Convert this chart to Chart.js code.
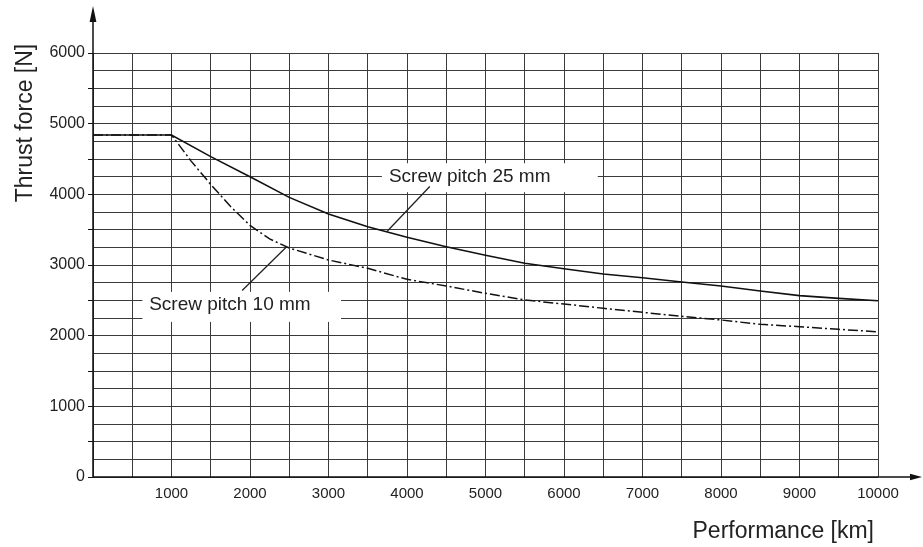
<!DOCTYPE html>
<html>
<head>
<meta charset="utf-8">
<script src="https://cdn.jsdelivr.net/npm/chart.js@4"></script>
<style>
  html, body { margin: 0; padding: 0; background: #fff; }
  #wrap { width: 923px; height: 547px; position: relative; }
</style>
</head>
<body>
<div id="wrap"><canvas id="thrustChart"></canvas></div>
<script>
// Values
const pitch25Km = [0, 1000, 1500, 2000, 2500, 3000, 3500, 4000, 4500, 5000, 5500, 6000, 6500, 7000, 7500, 8000, 8500, 9000, 9500, 10000];
const pitch25Force = [4840, 4840, 4533, 4250, 3957, 3722, 3542, 3392, 3259, 3137, 3024, 2948, 2872, 2820, 2760, 2703, 2632, 2566, 2528, 2495];
const pitch10Km = [0, 1000, 1250, 1500, 1750, 2000, 2250, 2500, 3000, 3500, 4000, 4500, 5000, 5500, 6000, 6500, 7000, 7500, 8000, 8500, 9000, 9500, 10000];
const pitch10Force = [4840, 4840, 4470, 4140, 3830, 3560, 3370, 3240, 3071, 2953, 2797, 2703, 2599, 2505, 2448, 2387, 2330, 2275, 2222, 2160, 2127, 2090, 2055];
const xLabelValues = [1000, 2000, 3000, 4000, 5000, 6000, 7000, 8000, 9000, 10000];
const yLabelValues = [0, 1000, 2000, 3000, 4000, 5000, 6000];

const INK = '#222';
const GRID = '#3a3a3a';
const FONT = '"Liberation Sans", Arial, Helvetica, sans-serif';

// callout boxes and leader lines, in data units
const callouts = [
  { text: 'Screw pitch 25 mm', box: [3680, 4440, 6430, 4030], textAt: [3770, 4255], leader: [[4290, 4110], [3745, 3475]] },
  { text: 'Screw pitch 10 mm', box: [630, 2620, 3160, 2195], textAt: [715, 2434], leader: [[1900, 2640], [2460, 3250]] },
];

const toPoints = (xs, ys) => xs.map((x, i) => ({ x, y: ys[i] }));

const diagramDecor = {
  id: 'diagramDecor',
  afterDatasetsDraw(chart) {
    const { ctx, scales: { x, y }, chartArea } = chart;
    ctx.save();

    // callouts
    callouts.forEach((c) => {
      const x0 = x.getPixelForValue(c.box[0]);
      const y0 = y.getPixelForValue(c.box[1]);
      const x1 = x.getPixelForValue(c.box[2]);
      const y1 = y.getPixelForValue(c.box[3]);
      ctx.fillStyle = '#fff';
      ctx.fillRect(x0, y0, x1 - x0, y1 - y0);

      ctx.strokeStyle = INK;
      ctx.lineWidth = 1.3;
      ctx.beginPath();
      ctx.moveTo(x.getPixelForValue(c.leader[0][0]), y.getPixelForValue(c.leader[0][1]));
      ctx.lineTo(x.getPixelForValue(c.leader[1][0]), y.getPixelForValue(c.leader[1][1]));
      ctx.stroke();

      ctx.fillStyle = INK;
      ctx.font = '19px ' + FONT;
      ctx.textAlign = 'left';
      ctx.textBaseline = 'middle';
      ctx.fillText(c.text, x.getPixelForValue(c.textAt[0]), y.getPixelForValue(c.textAt[1]));
    });

    // axes with arrows
    const left = chartArea.left;
    const bottom = chartArea.bottom;
    ctx.strokeStyle = '#111';
    ctx.fillStyle = '#111';
    ctx.lineWidth = 1.5;
    ctx.beginPath();
    ctx.moveTo(left, bottom);
    ctx.lineTo(left, 18);
    ctx.moveTo(left, bottom);
    ctx.lineTo(913, bottom);
    ctx.stroke();

    ctx.beginPath();
    ctx.moveTo(left, 6);
    ctx.lineTo(left - 3.4, 22);
    ctx.lineTo(left + 3.4, 22);
    ctx.closePath();
    ctx.fill();

    ctx.beginPath();
    ctx.moveTo(922, bottom);
    ctx.lineTo(910, bottom - 3.2);
    ctx.lineTo(910, bottom + 3.2);
    ctx.closePath();
    ctx.fill();

    // axis titles
    ctx.fillStyle = INK;
    ctx.font = '23px ' + FONT;
    ctx.textAlign = 'right';
    ctx.textBaseline = 'alphabetic';
    ctx.fillText('Performance [km]', 874, 538);

    ctx.translate(32, 123);
    ctx.rotate(-Math.PI / 2);
    ctx.textAlign = 'center';
    ctx.fillText('Thrust force [N]', 0, 0);
    ctx.restore();
  },
};

new Chart(document.getElementById('thrustChart'), {
  type: 'line',
  data: {
    datasets: [
      {
        label: 'Screw pitch 25 mm',
        data: toPoints(pitch25Km, pitch25Force),
        borderColor: '#111',
        borderWidth: 1.6,
        pointRadius: 0,
        tension: 0,
        fill: false,
      },
      {
        label: 'Screw pitch 10 mm',
        data: toPoints(pitch10Km, pitch10Force),
        borderColor: '#111',
        borderWidth: 1.5,
        borderDash: [10, 3, 2, 3],
        pointRadius: 0,
        tension: 0,
        fill: false,
      },
    ],
  },
  options: {
    responsive: true,
    maintainAspectRatio: false,
    animation: false,
    layout: { padding: { top: 53, right: 45, left: 0, bottom: 0 } },
    plugins: { legend: { display: false }, tooltip: { enabled: false } },
    scales: {
      x: {
        type: 'linear',
        min: 0,
        max: 10000,
        afterFit: (scale) => { scale.height = 70; },
        border: { display: false },
        grid: { color: GRID, lineWidth: 1, drawTicks: false },
        ticks: {
          stepSize: 500,
          padding: 8,
          color: INK,
          font: { size: 15, family: FONT },
          maxRotation: 0,
          autoSkip: false,
          callback: (v) => (xLabelValues.includes(v) ? String(v) : ''),
        },
      },
      y: {
        type: 'linear',
        min: 0,
        max: 6000,
        afterFit: (scale) => { scale.width = 93; },
        border: { display: false },
        grid: {
          color: GRID,
          lineWidth: 1,
          drawTicks: true,
          tickLength: 5,
          tickColor: (c) => (c.tick && c.tick.value % 500 === 0 ? '#111' : 'rgba(0,0,0,0)'),
        },
        ticks: {
          stepSize: 250,
          padding: 3,
          color: INK,
          font: { size: 16, family: FONT },
          autoSkip: false,
          callback: (v) => (yLabelValues.includes(v) ? String(v) : ''),
        },
      },
    },
  },
  plugins: [diagramDecor],
});
</script>
</body>
</html>
